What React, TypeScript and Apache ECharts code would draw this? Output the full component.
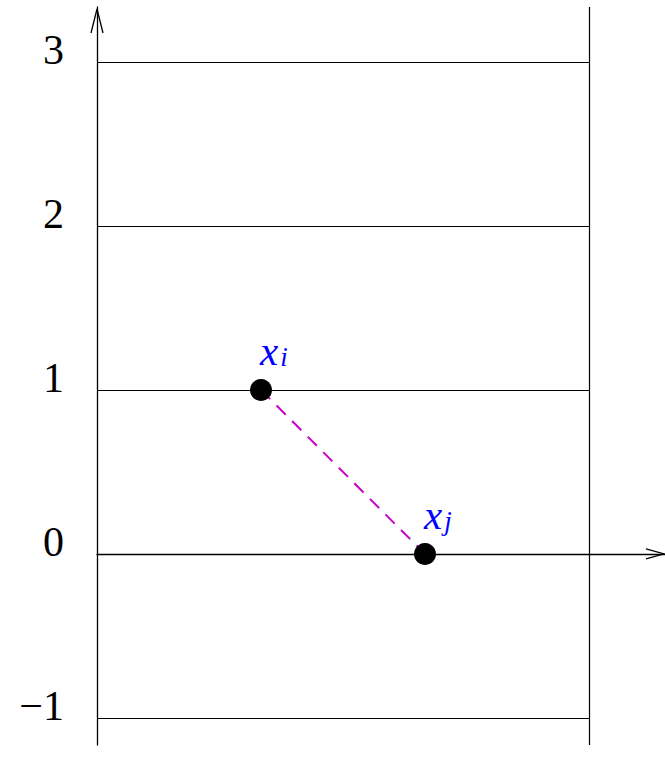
import React, { useEffect, useRef } from "react";
import * as echarts from "echarts";

const levels = [-1, 0, 1, 2, 3];
const levelLabels = ["\u22121", "0", "1", "2", "3"];
const points: [number, number][] = [[1, 1], [2, 0]];
const pointNames = ["i", "j"];
const rightEdge = 3;
const xMax = 3.4634;
const yMin = -1.165;
const yMax = 3.335;

export default function App() {
  const ref = useRef<HTMLDivElement>(null);
  useEffect(() => {
    document.body.style.margin = "0";
    const chart = echarts.init(ref.current!, null, { renderer: "svg" });
    const lineColor = "#000";
    const markData: any[] = levels.map((v) => [
      { coord: [0, v] },
      { coord: [rightEdge, v] },
    ]);
    markData.push([{ coord: [rightEdge, yMin] }, { coord: [rightEdge, yMax] }]);
    chart.setOption({
      animation: false,
      grid: { left: 97, right: 0, top: 7, bottom: 28 },
      xAxis: {
        type: "value",
        min: 0,
        max: xMax,
        axisLine: { onZero: true, lineStyle: { color: lineColor, width: 1.3 } },
        axisTick: { show: false },
        axisLabel: { show: false },
        splitLine: { show: false },
      },
      yAxis: {
        type: "value",
        min: yMin,
        max: yMax,
        axisLine: { show: true, onZero: false, lineStyle: { color: lineColor, width: 1.3 } },
        axisTick: { show: false },
        splitLine: { show: false },
        axisLabel: {
          show: true,
          customValues: levels,
          formatter: (v: number) => levelLabels[levels.indexOf(Math.round(v))] ?? "",
          fontFamily: "Liberation Serif",
          fontSize: 42,
          color: "#000",
          margin: 33,
          verticalAlign: "bottom",
          lineHeight: 24,
        },
      },
      series: [
        {
          type: "line",
          data: points,
          symbol: "none",
          lineStyle: { color: "#cc00cc", width: 2, type: [13, 9] },
          z: 2,
          markLine: {
            silent: true,
            symbol: "none",
            label: { show: false },
            lineStyle: { color: lineColor, width: 1.2, type: "solid" },
            emphasis: { disabled: true },
            data: markData,
          },
        },
        {
          type: "scatter",
          data: points.map((p, i) => ({ value: p, name: pointNames[i] })),
          symbolSize: 22,
          itemStyle: { color: "#000", opacity: 1 },
          z: 5,
          label: {
            show: true,
            position: [10, -8],
            align: "left",
            verticalAlign: "bottom",
            formatter: (p: any) => `{x|x}{s|${p.name}}`,
            rich: {
              x: {
                fontFamily: "Liberation Serif",
                fontStyle: "italic",
                fontSize: 41,
                color: "#0000ff",
                lineHeight: 40,
              },
              s: {
                fontFamily: "Liberation Serif",
                fontStyle: "italic",
                fontSize: 27,
                color: "#0000ff",
                lineHeight: 20,
                verticalAlign: "bottom",
                padding: [0, 0, 0, 2],
              },
            },
          },
        },
      ],
    });
    const tipY = chart.convertToPixel({ gridIndex: 0 }, [0, yMax]) as number[];
    const tipX = chart.convertToPixel({ gridIndex: 0 }, [xMax, 0]) as number[];
    const ax = tipY[0];
    const ay = tipY[1] + 2;
    const bx = tipX[0] - 1;
    const by = tipX[1];
    chart.setOption({
      graphic: [
        {
          type: "polyline",
          shape: { points: [[ax - 6, ay + 24], [ax, ay], [ax + 6, ay + 24]] },
          style: { stroke: "#000", fill: "none", lineWidth: 1.3 },
        },
        {
          type: "polyline",
          shape: { points: [[bx - 18, by - 5], [bx, by], [bx - 18, by + 5]] },
          style: { stroke: "#000", fill: "none", lineWidth: 1.3 },
        },
      ],
    });
    return () => chart.dispose();
  }, []);
  return <div ref={ref} style={{ width: 665, height: 773 }} />;
}
